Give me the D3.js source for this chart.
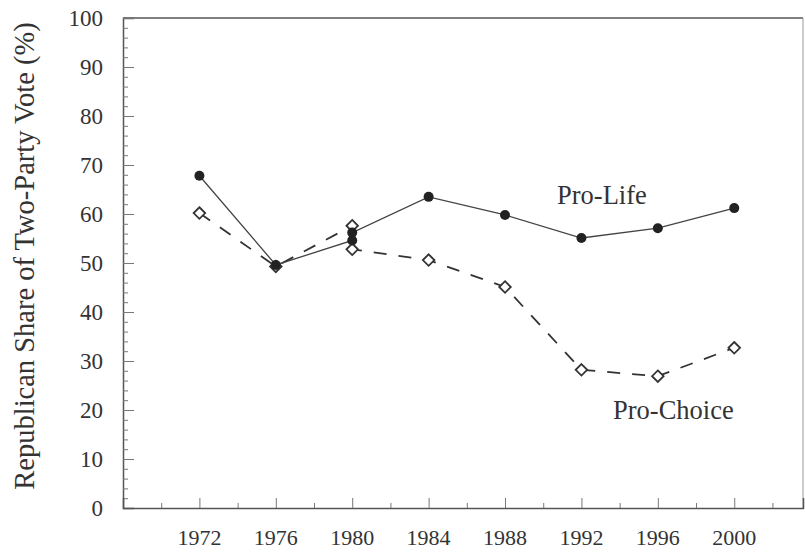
<!DOCTYPE html>
<html>
<head>
  <meta charset='utf-8'>
  <script src='https://cdn.jsdelivr.net/npm/d3@7'></script>
</head>
<body style='margin:0'>
  <svg id='chart' width='805' height='553'></svg>
  <script>
    const proLifeYears = [1972, 1976, 1980, 1980, 1984, 1988, 1992, 1996, 2000];
    const proLifeValues = [67.8, 49.6, 54.6, 56.2, 63.5, 59.8, 55.1, 57.1, 61.2];
    const proChoiceYears = [1972, 1976, 1980, 1980, 1984, 1988, 1992, 1996, 2000];
    const proChoiceValues = [60.2, 49.3, 57.6, 52.8, 50.6, 45.1, 28.2, 26.9, 32.7];
    const xTickYears = [1972, 1976, 1980, 1984, 1988, 1992, 1996, 2000];
    const xMinorYears = [1970, 1974, 1978, 1982, 1986, 1990, 1994, 1998, 2002];
    const yTickValues = [0, 10, 20, 30, 40, 50, 60, 70, 80, 90, 100];
    const yMinorValues = d3.range(2, 100, 2).filter(v => v % 10 !== 0);

    const svg = d3.select('#chart');
    const plot = { left: 123, right: 803, top: 18, bottom: 508 };

    const x = d3.scaleLinear().domain([1968, 2003.6]).range([plot.left, plot.right]);
    const y = d3.scaleLinear().domain([0, 100]).range([plot.bottom, plot.top]);

    // all texts go through here so they share the serif face
    function label(parent, str, size) {
        return parent.append('text')
            .style('font-family', "'Liberation Serif'")
            .attr('font-size', size)
            .attr('fill', '#333')
            .text(str);
    }

    // frame: top and right are drawn as plain lines
    svg.append('line')
        .attr('x1', plot.left).attr('x2', plot.right)
        .attr('y1', plot.top).attr('y2', plot.top)
        .attr('stroke', '#555').attr('stroke-width', 1.5);
    svg.append('line')
        .attr('x1', plot.right).attr('x2', plot.right)
        .attr('y1', plot.top).attr('y2', plot.bottom)
        .attr('stroke', '#999').attr('stroke-width', 1);

    // axes with inward ticks, labels drawn separately
    svg.append('g')
        .attr('transform', `translate(${plot.left},0)`)
        .call(d3.axisRight(y).tickValues(yTickValues).tickSize(11).tickFormat(''));
    svg.append('g')
        .attr('transform', `translate(${plot.left},0)`)
        .call(d3.axisRight(y).tickValues(yMinorValues).tickSize(5).tickFormat(''))
        .call(g => g.select('.domain').remove());
    svg.append('g')
        .attr('transform', `translate(0,${plot.bottom})`)
        .call(d3.axisTop(x).tickValues(xTickYears).tickSize(10).tickFormat(''));
    svg.append('g')
        .attr('transform', `translate(0,${plot.bottom})`)
        .call(d3.axisTop(x).tickValues(xMinorYears).tickSize(5).tickFormat(''))
        .call(g => g.select('.domain').remove());
    svg.selectAll('.domain').attr('stroke', '#555').attr('stroke-width', 1.5);
    svg.selectAll('.tick line').attr('stroke', '#777').attr('stroke-width', 1);
    svg.selectAll('.tick text').remove();
    svg.selectAll('g').attr('font-family', null).attr('font-size', null);

    yTickValues.forEach(v => {
        label(svg, v, 23)
            .attr('x', 103)
            .attr('y', y(v))
            .attr('dy', '0.34em')
            .attr('text-anchor', 'end');
    });
    xTickYears.forEach(yr => {
        label(svg, yr, 22)
            .attr('x', x(yr))
            .attr('y', 545)
            .attr('text-anchor', 'middle');
    });

    // axis title
    label(svg, 'Republican Share of Two-Party Vote (%)', 28.5)
        .attr('transform', 'translate(34,256) rotate(-90)')
        .attr('text-anchor', 'middle');

    const lifeData = proLifeYears.map((yr, i) => ({ year: yr, value: proLifeValues[i] }));
    const choiceData = proChoiceYears.map((yr, i) => ({ year: yr, value: proChoiceValues[i] }));
    const line = d3.line()
        .x(d => x(d.year))
        .y(d => y(d.value));

    svg.append('path')
        .datum(choiceData)
        .attr('d', line)
        .attr('fill', 'none')
        .attr('stroke', '#333')
        .attr('stroke-width', 1.8)
        .attr('stroke-dasharray', '13,12');
    svg.append('path')
        .datum(lifeData)
        .attr('d', line)
        .attr('fill', 'none')
        .attr('stroke', '#444')
        .attr('stroke-width', 1.3);

    // open diamonds for pro-choice
    const diamond = d3.symbol().type(d3.symbolDiamond2).size(85);
    svg.append('g')
        .selectAll('path')
        .data(choiceData)
        .join('path')
            .attr('transform', d => `translate(${x(d.year)},${y(d.value)})`)
            .attr('d', diamond)
            .attr('fill', '#fff')
            .attr('stroke', '#333')
            .attr('stroke-width', 1.8);

    // filled circles for pro-life
    svg.append('g')
        .selectAll('circle')
        .data(lifeData)
        .join('circle')
            .attr('cx', d => x(d.year))
            .attr('cy', d => y(d.value))
            .attr('r', 5)
            .attr('fill', '#222');

    // series labels
    label(svg, 'Pro-Life', 26.5).attr('x', 557).attr('y', 204);
    label(svg, 'Pro-Choice', 26.5).attr('x', 613).attr('y', 419);
  </script>
</body>
</html>
